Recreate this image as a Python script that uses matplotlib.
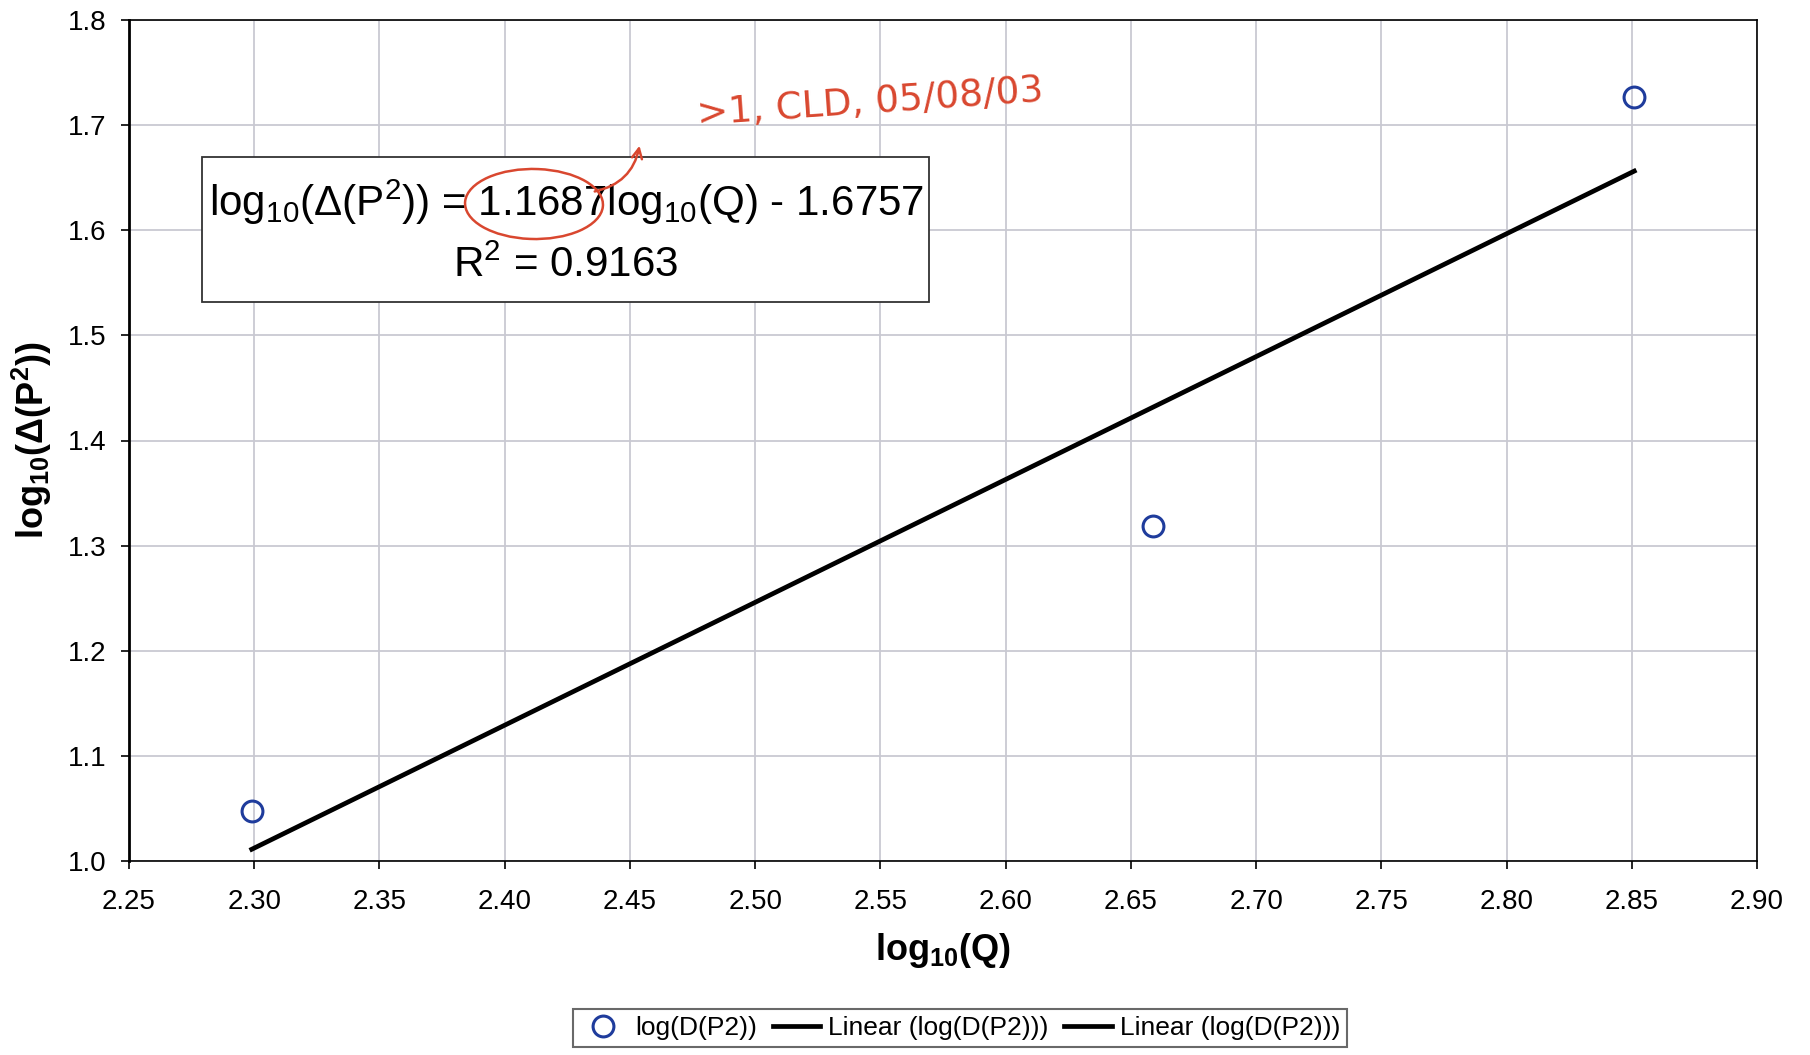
import numpy as np
import matplotlib
matplotlib.use("Agg")
import matplotlib.pyplot as plt
from matplotlib.patches import Rectangle, Ellipse, FancyArrowPatch

plt.rcParams['font.family'] = ['Liberation Sans', 'DejaVu Sans']
plt.rcParams['mathtext.default'] = 'regular'

# measured points
log_q = np.array([2.299, 2.659, 2.851])
log_dp2 = np.array([1.048, 1.319, 1.727])

# trendline as reported
slope = 1.1687
intercept = -1.6757
r2 = 0.9163

xticks = np.arange(2.25, 2.901, 0.05)
yticks = np.arange(1.0, 1.801, 0.1)

W, H = 1810, 1055
fig = plt.figure(figsize=(W / 100, H / 100), dpi=100)
ax = fig.add_axes([129 / W, 1 - 861 / H, (1757 - 129) / W, (861 - 20) / H])

ax.set_xlim(2.25, 2.90)
ax.set_ylim(1.0, 1.8)
ax.set_xticks(xticks)
ax.set_yticks(yticks)
ax.set_xticklabels(['%.2f' % v for v in xticks])
ax.set_yticklabels(['%.1f' % v for v in yticks])
ax.grid(True, color='#c9c9d2', linewidth=1.3)
ax.set_axisbelow(True)
ax.tick_params(direction='out', length=6, width=1.2, labelsize=20, colors='black')
ax.tick_params(axis='x', pad=14)
ax.tick_params(axis='y', pad=10)
for s in ax.spines.values():
    s.set_color('black')
    s.set_linewidth(1.2)
ax.spines['left'].set_linewidth(2)

xx = np.array([log_q.min(), log_q.max()])
ax.plot(log_q, log_dp2, 'o', mfc='none', mec='#1f3c9c', ms=15, mew=2.2,
        label='log(D(P2))', zorder=4)
ax.plot(xx, slope * xx + intercept, color='black', lw=3.4,
        label='Linear (log(D(P2)))', zorder=3)
ax.plot([], [], color='black', lw=3.4, label='Linear (log(D(P2)))')

ax.set_xlabel('log$_{10}$(Q)', fontsize=26, fontweight='bold', labelpad=12)
ax.set_ylabel('log$_{10}$(Δ(P$^2$))', fontsize=26, fontweight='bold', labelpad=10)

leg = fig.legend(loc='center', bbox_to_anchor=(960 / W, 1 - 1028 / H), ncol=3,
                 fontsize=19, frameon=True, fancybox=False, edgecolor='#444444',
                 handlelength=1.8, handletextpad=0.3, columnspacing=0.6,
                 borderpad=0.25, numpoints=1)
leg.get_frame().set_linewidth(1.5)

# equation box
fig.patches.append(Rectangle((202 / W, 1 - 302 / H), (929 - 202) / W, (302 - 157) / H,
                             transform=fig.transFigure, facecolor='white',
                             edgecolor='#333333', lw=1.3, zorder=5))
sign = '-' if intercept < 0 else '+'
fig.text(566 / W, 1 - 202 / H,
         'log$_{10}$(Δ(P$^2$)) = %.4flog$_{10}$(Q) %s %.4f' % (slope, sign, abs(intercept)),
         ha='center', va='center', fontsize=30.3, zorder=6)
fig.text(566 / W, 1 - 266 / H, 'R$^2$ = %.4f' % r2,
         ha='center', va='center', fontsize=30.3, zorder=6)

# red pen notes
red = '#d9472f'
fig.patches.append(Ellipse((534 / W, 1 - 204 / H), 138 / W, 70 / H,
                           transform=fig.transFigure, facecolor='none',
                           edgecolor=red, lw=1.8, angle=-4, zorder=7))
fig.patches.append(FancyArrowPatch((592 / W, 1 - 192 / H), (640 / W, 1 - 143 / H),
                                   transform=fig.transFigure, color=red, lw=1.8,
                                   arrowstyle='->', mutation_scale=18,
                                   connectionstyle='arc3,rad=0.35', zorder=7))
fig.text(870 / W, 1 - 103 / H, '>1, CLD, 05/08/03', color=red, fontsize=27,
         ha='center', va='center', rotation=4, family='DejaVu Sans', zorder=7)

fig.savefig('out.png', dpi=100)
